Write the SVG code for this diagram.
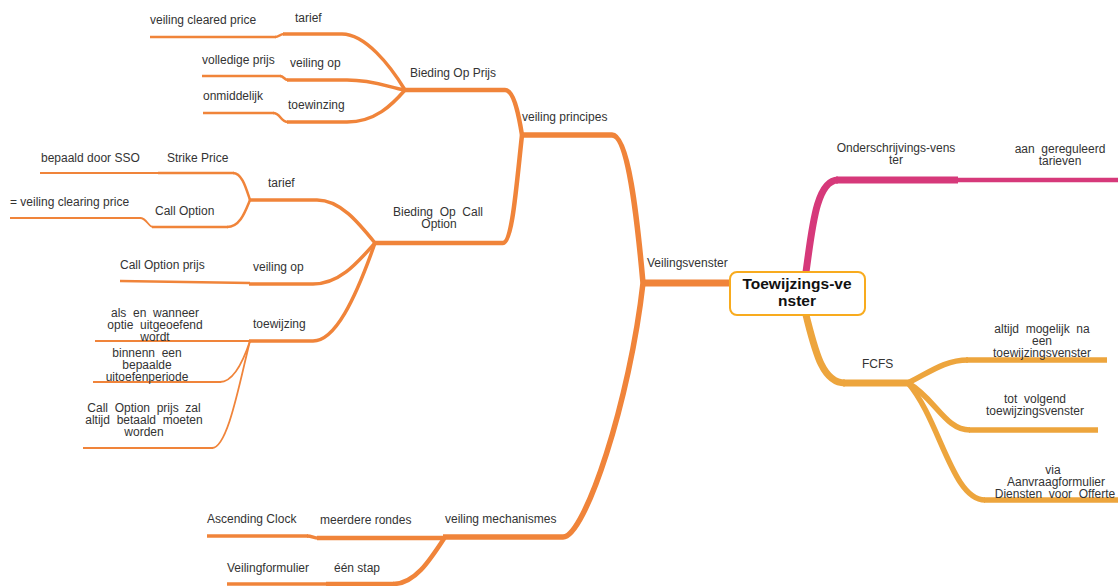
<svg xmlns="http://www.w3.org/2000/svg" width="1118" height="586" viewBox="0 0 1118 586">
<style>
text{font-family:"Liberation Sans",Arial,sans-serif;font-size:12px;fill:#333333}
.c{text-anchor:middle}
.root{font-size:15.5px;font-weight:bold;fill:#111111;text-anchor:middle}
path,line{fill:none;stroke-linecap:butt}
.o{stroke:#F0843A}
.m{stroke:#D6397A}
.g{stroke:#EDA53D}
.w7{stroke-width:7}
.w6{stroke-width:5.5}
.w5{stroke-width:4.5}
.w4{stroke-width:3.5}
.w3{stroke-width:2.5}
.w2{stroke-width:1.8}
.w1{stroke-width:1.5}
</style>
<rect width="1118" height="586" fill="#ffffff"/>
<g id="connectors">
<path class="o w7" d="M643,283 L730,283"/>
<path class="o w6" d="M612,135 C628,135 637,216 643,283"/>
<path class="o w6" d="M563,537 C585,537 630,400 643,283"/>
<path class="o w5" d="M505,90 C513,90 518,110 522,135"/>
<path class="o w5" d="M503,243 C512,243 516,190 522,135"/>
<path class="o w4" d="M342,34 C365,34 390,65 405,90"/>
<path class="o w4" d="M347,80 C375,80 390,88 405,90"/>
<path class="o w4" d="M347,122 C375,122 392,105 405,90"/>
<path class="o w3" d="M275,37 C279,37 280,34 284,34"/>
<path class="o w3" d="M280,76 C284,76 284,80 288,80"/>
<path class="o w3" d="M273,113 C281,113 280,122 288,122"/>
<path class="o w4" d="M317,200 C340,200 358,222 375,243"/>
<path class="o w4" d="M313,284 C340,284 358,262 375,243"/>
<path class="o w4" d="M313,341 C335,341 355,300 375,243"/>
<path class="o w3" d="M233,173 C242,173 246,188 250,200"/>
<path class="o w3" d="M227,227 C240,227 245,212 250,200"/>
<path class="o w2" d="M140,218 C147,218 148,227 153,227"/>
<path class="o w2" d="M220,382 C232,382 242,365 250,341"/>
<path class="o w2" d="M212,448 C228,448 240,380 250,341"/>
<path class="o w5" d="M393,584 C415,584 430,560 445,537"/>
<path class="o w4" d="M307,536 C312,536 314,538 318,538"/>
<path class="m w7" d="M806,272 C812,230 816,180 838,180"/>
<path class="g w7" d="M806,315 C815,350 822,383 845,383"/>
<path class="g w6" d="M908,383 C930,372 945,360 968,360"/>
<path class="g w6" d="M908,383 C935,398 945,430 970,430"/>
<path class="g w6" d="M908,383 C940,420 952,500 985,500"/>
</g>
<g id="root">
<rect x="730" y="272" width="135" height="43" rx="7" fill="#ffffff" stroke="#F8AB1E" stroke-width="2"/>
<text class="root" x="797" y="289">Toewijzings-ve<tspan x="797" y="306">nster</tspan></text>
</g>
<g id="veilingsvenster"><text x="647" y="267">Veilingsvenster</text></g>
<g id="veiling-principes"><path class="o w6" d="M520,135 L612,135"/><text x="522" y="121">veiling principes</text></g>
<g id="veiling-mechanismes"><path class="o w6" d="M443,537 L563,537"/><text x="445" y="523">veiling mechanismes</text></g>
<g id="bieding-op-prijs"><path class="o w5" d="M405,90 L505,90"/><text x="410" y="77">Bieding Op Prijs</text></g>
<g id="bieding-op-call"><path class="o w5" d="M375,243 L503,243"/><text class="c" x="438" y="216" xml:space="preserve">Bieding  Op  Call<tspan x="439" y="228">Option</tspan></text></g>
<g id="tarief-1"><path class="o w4" d="M283,34 L342,34"/><text x="295" y="22">tarief</text></g>
<g id="veiling-cleared-price"><path class="o w3" d="M150,37 L276,37"/><text x="150" y="24">veiling cleared price</text></g>
<g id="veiling-op-1"><path class="o w4" d="M287,80 L347,80"/><text x="290" y="67">veiling op</text></g>
<g id="volledige-prijs"><path class="o w3" d="M202,76 L281,76"/><text x="202" y="64">volledige prijs</text></g>
<g id="toewinzing"><path class="o w4" d="M287,122 L347,122"/><text x="288" y="109">toewinzing</text></g>
<g id="onmiddelijk"><path class="o w3" d="M203,113 L274,113"/><text x="203" y="100">onmiddelijk</text></g>
<g id="tarief-2"><path class="o w4" d="M249,200 L317,200"/><text x="268" y="187">tarief</text></g>
<g id="strike-price"><path class="o w3" d="M158,173 L234,173"/><text x="167" y="162">Strike Price</text></g>
<g id="bepaald-door-sso"><path class="o w2" d="M40,173 L159,173"/><text x="41" y="162">bepaald door SSO</text></g>
<g id="call-option"><path class="o w3" d="M152,227 L228,227"/><text x="155" y="215">Call Option</text></g>
<g id="veiling-clearing-price"><path class="o w2" d="M10,218 L141,218"/><text x="10" y="206">= veiling clearing price</text></g>
<g id="veiling-op-2"><path class="o w4" d="M249,284 L313,284"/><text x="253" y="271">veiling op</text></g>
<g id="call-option-prijs"><path class="o w3" d="M120,281 L250,283"/><text x="120" y="269">Call Option prijs</text></g>
<g id="toewijzing"><path class="o w4" d="M249,341 L313,341"/><text x="253" y="328">toewijzing</text></g>
<g id="als-en-wanneer"><path class="o w2" d="M95,341 L250,341"/><text class="c" x="155" y="317" xml:space="preserve">als  en  wanneer<tspan x="155" y="329">optie  uitgeoefend</tspan><tspan x="155" y="341">wordt</tspan></text></g>
<g id="binnenn-een"><path class="o w2" d="M93,382 L221,382"/><text class="c" x="147" y="357" xml:space="preserve">binnenn  een<tspan x="147" y="369">bepaalde</tspan><tspan x="147" y="381">uitoefenperiode</tspan></text></g>
<g id="call-option-prijs-zal"><path class="o w2" d="M83,448 L213,448"/><text class="c" x="144" y="412" xml:space="preserve">Call  Option  prijs  zal<tspan x="144" y="424">altijd  betaald  moeten</tspan><tspan x="144" y="436">worden</tspan></text></g>
<g id="meerdere-rondes"><path class="o w5" d="M317,538 L445,538"/><text x="320" y="524">meerdere rondes</text></g>
<g id="ascending-clock"><path class="o w4" d="M207,536 L308,536"/><text x="207" y="523">Ascending Clock</text></g>
<g id="een-stap"><path class="o w5" d="M326,584 L394,584"/><text x="334" y="572">één stap</text></g>
<g id="veilingformulier"><path class="o w4" d="M227,584 L327,584"/><text x="227" y="572">Veilingformulier</text></g>
<g id="onderschrijvings-venster"><path class="m w7" d="M836,180 L958,180"/><text class="c" x="896" y="152">Onderschrijvings-vens<tspan x="896" y="164">ter</tspan></text></g>
<g id="aan-gereguleerd"><path class="m w5" d="M957,180 L1118,180"/><text class="c" x="1060" y="153" xml:space="preserve">aan  gereguleerd<tspan x="1060" y="165">tarieven</tspan></text></g>
<g id="fcfs"><path class="g w7" d="M843,383 L909,383"/><text x="862" y="368">FCFS</text></g>
<g id="altijd-mogelijk"><path class="g w6" d="M966,360 L1107,360"/><text class="c" x="1042" y="333" xml:space="preserve">altijd  mogelijk  na<tspan x="1042" y="345">een</tspan><tspan x="1042" y="357">toewijzingsvenster</tspan></text></g>
<g id="tot-volgend"><path class="g w6" d="M969,430 L1098,430"/><text class="c" x="1035" y="403" xml:space="preserve">tot  volgend<tspan x="1035" y="415">toewijzingsvenster</tspan></text></g>
<g id="via-aanvraagformulier"><path class="g w6" d="M984,500 L1118,500"/><text class="c" x="1053" y="474" xml:space="preserve">via<tspan x="1056" y="486">Aanvraagformulier</tspan><tspan x="1055" y="498">Diensten  voor  Offerte</tspan></text></g>
</svg>
